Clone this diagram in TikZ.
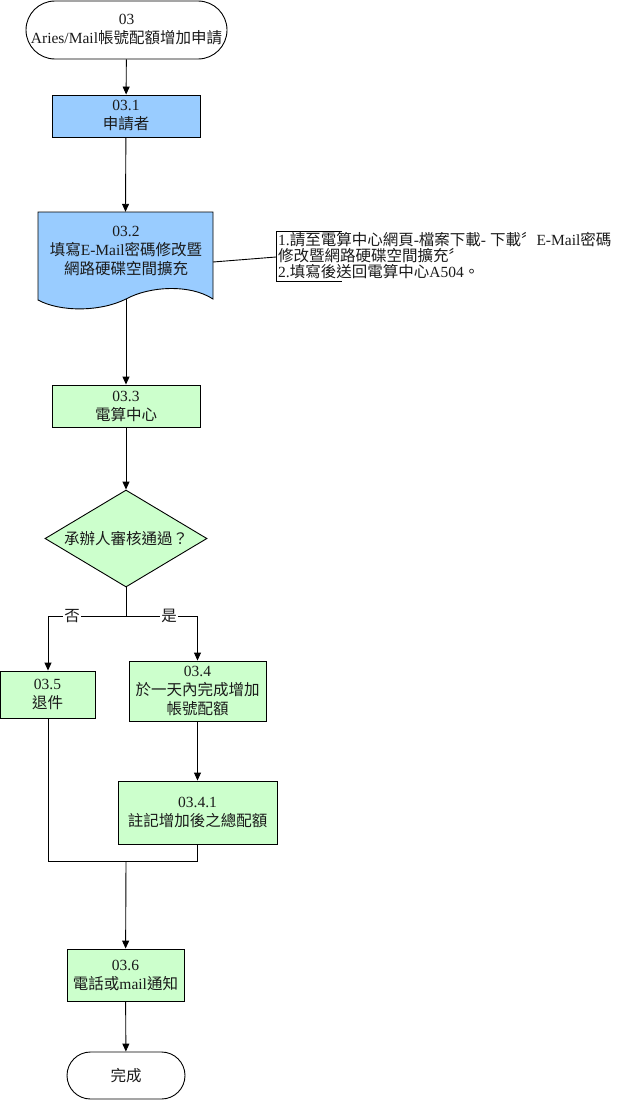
\documentclass[tikz,border=0pt]{standalone}
\usepackage{fontspec}
\setmainfont{Liberation Serif}
\newfontfamily\cjk{Noto Sans CJK TC}
\newcommand{\C}[1]{{\cjk #1}}
\usetikzlibrary{shapes.misc,shapes.geometric,arrows.meta}
\definecolor{bluefill}{HTML}{99CCFF}
\definecolor{greenfill}{HTML}{CCFFCC}
\definecolor{txt}{HTML}{1A1A1A}
\begin{document}
\begin{tikzpicture}[x=1pt,y=-1pt,
  every node/.style={font=\fontsize{15.5}{19}\selectfont, text=txt, align=center, inner sep=0pt},
  line/.style={draw=black, line width=0.9pt},
  arr/.style={line, -{Triangle[length=8pt,width=7pt]}},
  term/.style={rounded rectangle, draw=black, line width=0.9pt, fill=white},
  procblue/.style={rectangle, draw=black, line width=0.9pt, fill=bluefill},
  procgreen/.style={rectangle, draw=black, line width=0.9pt, fill=greenfill},
  lbl/.style={fill=white, inner sep=1pt}
]
\useasboundingbox (0,0) rectangle (619,1100);

% start
\node[term, minimum width=201pt, minimum height=58pt] (start) at (126.5,30)
  {03\\Aries/Mail\C{帳號配額增加申請}};

% 03.1
\node[procblue, minimum width=148pt, minimum height=42pt] (n31) at (126,116)
  {03.1\\\C{申請者}};

% 03.2 document shape
\fill[bluefill] (38,212) -- (213,212) -- (213,299)
  .. controls (190,284) and (150,286) .. (126,299)
  .. controls (100,312) and (60,312) .. (38,300) -- cycle;
\draw[line] (38,212) -- (213,212) -- (213,299)
  .. controls (190,284) and (150,286) .. (126,299)
  .. controls (100,312) and (60,312) .. (38,300) -- cycle;
\node[minimum width=175pt, minimum height=87pt] (n32) at (125.5,255.5) {};
\node (n32t) at (126,251) {03.2\\\C{填寫}E-Mail\C{密碼修改暨}\\\C{網路硬碟空間擴充}};

% note
\coordinate (noteL) at (276,257);
\draw[line] (342,231) -- (276,231) -- (276,281) -- (342,281);
\node[anchor=north west, align=left, font=\fontsize{15.5}{16}\selectfont] (note) at (278,232)
  {1.\C{請至電算中心網頁}-\C{檔案下載}- \C{下載〞}E-Mail\C{密碼}\\
   \C{修改暨網路硬碟空間擴充〞}\\
   2.\C{填寫後送回電算中心}A504\C{。}};
\draw[line] (213,262) -- (noteL);

% 03.3
\node[procgreen, minimum width=148pt, minimum height=42pt] (n33) at (126,406)
  {03.3\\\C{電算中心}};

% decision
\node[diamond, draw=black, line width=0.9pt, fill=greenfill, minimum width=162pt, minimum height=97pt, aspect=1.67] (dec) at (126,538.5)
  {\C{承辦人審核通過？}};

% 03.5
\node[procgreen, minimum width=95pt, minimum height=47pt] (n35) at (47.5,694.5)
  {03.5\\\C{退件}};
% 03.4
\node[procgreen, minimum width=137pt, minimum height=60pt] (n34) at (197.5,691)
  {03.4\\\C{於一天內完成增加}\\\C{帳號配額}};
% 03.4.1
\node[procgreen, minimum width=159pt, minimum height=63pt] (n341) at (197.5,812.5)
  {03.4.1\\\C{註記增加後之總配額}};
% 03.6
\node[procgreen, minimum width=117pt, minimum height=52pt] (n36) at (125.5,975)
  {03.6\\\C{電話或}mail\C{通知}};
% end
\node[term, minimum width=118pt, minimum height=47pt] (end) at (126,1075.5)
  {\C{完成}};

% connectors
\draw[arr] (start) -- (n31);
\draw[arr] (n31) -- (n32.north);
\draw[arr] (126,299) -- (n33);
\draw[arr] (n33) -- (dec);

\coordinate (split) at (126,616);
\coordinate (splitL) at (48,616);
\coordinate (splitR) at (197.5,616);
\draw[line] (dec.south) -- (split);
\draw[arr] (split) -- (splitL) -- (n35.north -| splitL);
\draw[arr] (split) -- (splitR) -- (n34.north);
\node[lbl] (no) at (72,616) {\C{否}};
\node[lbl] (yes) at (169,616) {\C{是}};

\draw[arr] (n34) -- (n341);

\coordinate (mergeL) at (48,861);
\coordinate (mergeR) at (197.5,861);
\coordinate (merge) at (126,861);
\draw[line] (n35.south -| mergeL) -- (mergeL) -- (mergeR) -- (n341.south);
\draw[arr] (merge) -- (n36);
\draw[arr] (n36) -- (end);
\end{tikzpicture}
\end{document}
